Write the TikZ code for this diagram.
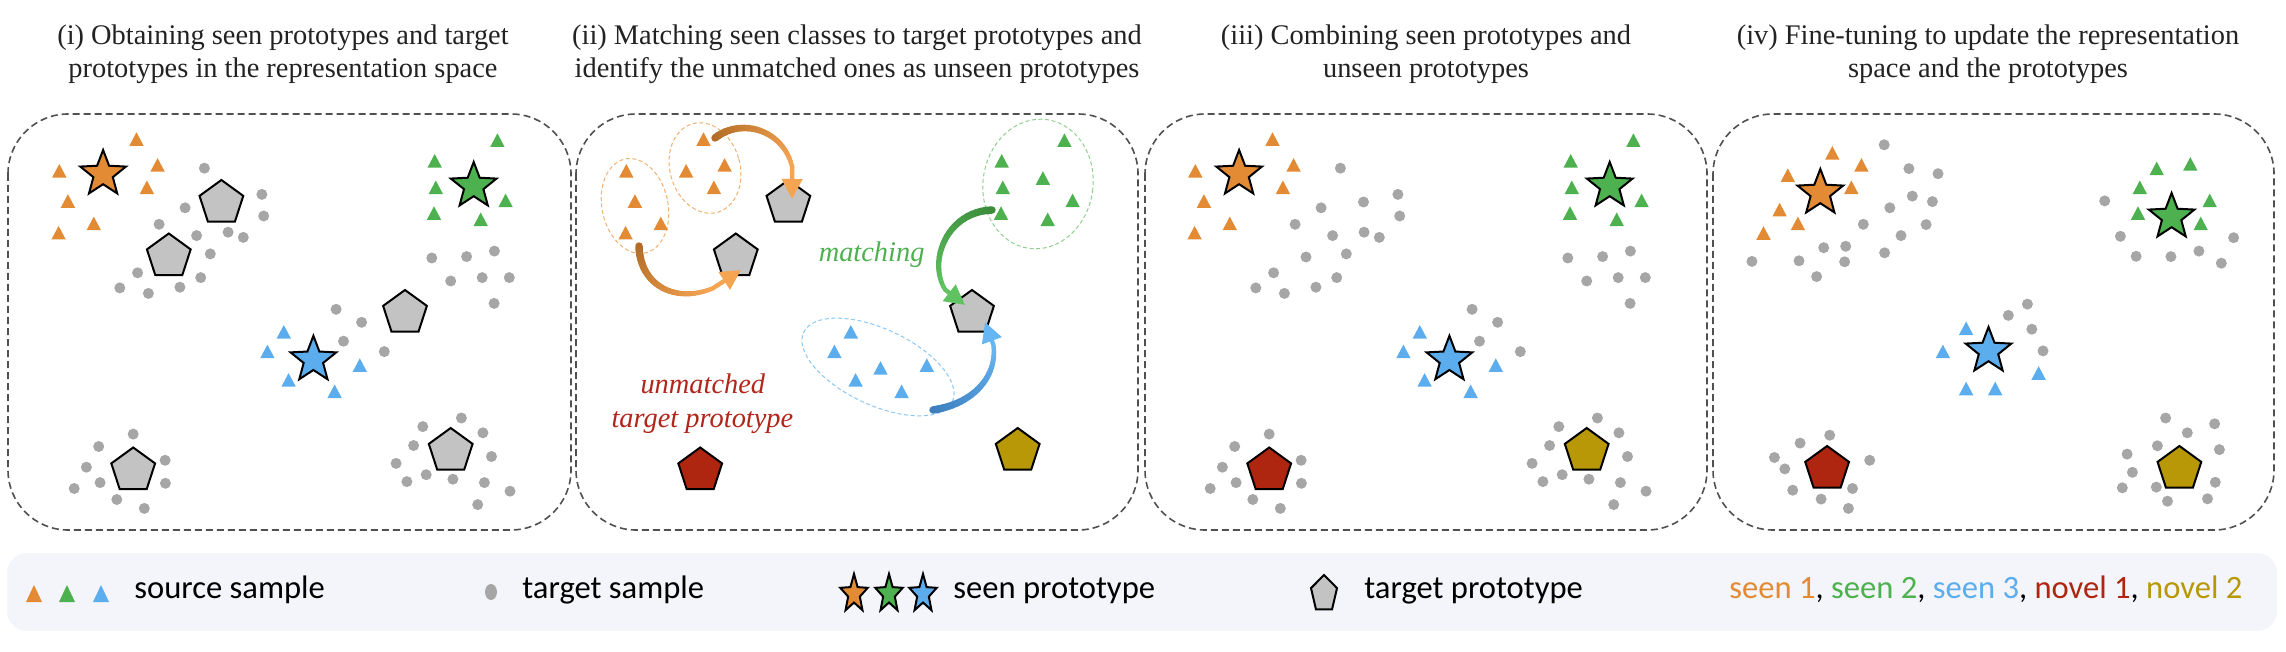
\documentclass[tikz,border=0pt]{standalone}
\usepackage{fontspec}
\setmainfont{Liberation Serif}
\newfontfamily\legfont{Carlito}
\usetikzlibrary{shapes.geometric,arrows.meta}

\definecolor{cor}{HTML}{E38A34}
\definecolor{cgr}{HTML}{4DB14F}
\definecolor{cbl}{HTML}{5CADEE}
\definecolor{cred}{HTML}{AE2610}
\definecolor{col}{HTML}{B89806}
\definecolor{cpent}{HTML}{C3C3C3}
\definecolor{cdot}{HTML}{A6A6A6}
\definecolor{cpanel}{HTML}{505050}
\definecolor{clegbg}{HTML}{F3F5FA}
\definecolor{ctitle}{HTML}{222222}
\definecolor{corD}{HTML}{B06A25}
\definecolor{corL}{HTML}{F5A452}
\definecolor{cgrD}{HTML}{3A8A3A}
\definecolor{cgrL}{HTML}{60C260}
\definecolor{cblD}{HTML}{3C7CBC}
\definecolor{cblL}{HTML}{66B6F4}
\definecolor{corE}{HTML}{F0B070}
\definecolor{cgrE}{HTML}{8FD08F}
\definecolor{cblE}{HTML}{8CC8F2}
\definecolor{cunm}{HTML}{B0261A}

\tikzset{
 panelbox/.style={draw=cpanel, line width=0.8pt, dash pattern=on 3.5pt off 2pt, rounded corners=30pt},
 pent/.style={regular polygon, regular polygon sides=5, minimum size=23pt, inner sep=0pt, draw=black, line width=1pt},
 pstar/.style={star, star points=5, star point ratio=2.35, minimum size=24pt, inner sep=0pt, draw=black, line width=1pt},
 clus/.style={ellipse, line width=0.5pt, dash pattern=on 2pt off 1.3pt, inner sep=0pt},
 ttl/.style={font=\fontsize{14.2}{16.5}\selectfont, text=ctitle, anchor=base, inner sep=0pt},
 lab/.style={font=\fontsize{14.2}{17}\selectfont\itshape, anchor=base, inner sep=0pt},
 leg/.style={font=\legfont\fontsize{16.3}{19}\selectfont, anchor=base west, inner sep=0pt},
}

\newcommand\tri[3]{\fill[#1] ({#2-7.2},{#3+6.6}) -- ({#2+7.2},{#3+6.6}) -- (#2,{#3-7}) -- cycle;}
\newcommand\dt[2]{\fill[cdot] (#1,#2) circle [radius=5.5];}

\newcommand\orangeTris{\foreach \x/\y in {136.5/139.3,59.3/171,157.6/165.1,146.9/187.5,67.9/201.2,93.8/223.6,58.6/232.9}{\tri{cor}{\x}{\y}}}
\newcommand\greenTris{\foreach \x/\y in {497.4/140.4,434.7/161,435.8/187.5,505.6/200.6,434/213.3,480.7/219.5}{\tri{cgr}{\x}{\y}}}
\newcommand\blueTris{\foreach \x/\y in {283.8/332,267.4/351.6,359.8/365.3,288.6/380.1,334.6/391.5}{\tri{cbl}{\x}{\y}}}
\newcommand\dotsTop{\foreach \x/\y in {204.4/168.2,261.9/194.4,185.1/207.8,263.7/216,159.1/224.3,228.1/232.2,243.3/237.4,196.6/235.6,210.3/253.9,137.6/272.8,200.7/277.6,119.8/287.9,148.4/293.4,179.9/287.2,431.8/258,466.6/256.6,494.4/251.1,450.7/281,482.2/277.6,509.3/277.6,494.1/303.4,336.1/309.3,361.6/322.3,343.5/341.2,384.3/351.6}{\dt{\x}{\y}}}
\newcommand\dotsBottom{\foreach \x/\y in {133.2/434.1,98.7/446.5,165.1/460.3,86.4/467.2,100.1/482.6,165.4/483.3,74.2/488.5,116.8/499.5,144.3/508.4,461.4/418,422.8/426.6,482.9/432.8,413.6/445.5,491.5/456.5,396.1/463.4,426.2/474.7,452.9/479.2,484.4/482.6,406.9/481.6,510/491.2,477.7/504.6}{\dt{\x}{\y}}}

\newcommand\gradarrow[6]{%
 \path (#1) .. controls (#2) and (#3) .. (#4)
   \foreach \k in {0,...,30}{ coordinate[pos=\k/30] (ga\k) };
 \foreach \k in {1,...,24}{%
   \pgfmathtruncatemacro\pc{round(100*\k/24)}%
   \pgfmathsetmacro\lw{3.8-1.6*\k/24}%
   \pgfmathtruncatemacro\kp{\k-1}%
   \draw[line width=\lw pt, line cap=round, color=#6!\pc!#5] (ga\kp) -- (ga\k);}
 \draw[line width=2.2pt, color=#6, -{Triangle[length=10pt,width=10pt]}] (ga24) -- (ga30);
}

\begin{document}
\begin{tikzpicture}[x=0.5pt,y=-0.5pt]
\useasboundingbox (0,0) rectangle (2286,652);

% ---------- panels
\draw[panelbox] (8,114) rectangle (571,530);
\draw[panelbox] (576,114) rectangle (1138,530);
\draw[panelbox] (1145,114) rectangle (1707,530);
\draw[panelbox] (1713,114) rectangle (2274,530);

% ---------- titles
\node[ttl] (t1a) at (283,45) {(i) Obtaining seen prototypes and target};
\node[ttl] (t1b) at (283,78) {prototypes in the representation space};
\node[ttl] (t2a) at (857,45) {(ii) Matching seen classes to target prototypes and};
\node[ttl] (t2b) at (857,78) {identify the unmatched ones as unseen prototypes};
\node[ttl] (t3a) at (1426,45) {(iii) Combining seen prototypes and};
\node[ttl] (t3b) at (1426,78) {unseen prototypes};
\node[ttl] (t4a) at (1988,45) {(iv) Fine-tuning to update the representation};
\node[ttl] (t4b) at (1988,78) {space and the prototypes};

% ---------- panel 1
\begin{scope}
\orangeTris \greenTris \blueTris \dotsTop \dotsBottom
\node[pent, fill=cpent] (p1a) at (221.4,203) {};
\node[pent, fill=cpent] (p1b) at (168.8,256.5) {};
\node[pent, fill=cpent] (p1c) at (405,313) {};
\node[pent, fill=cpent] (p1d) at (133.2,470.5) {};
\node[pent, fill=cpent] (p1e) at (450.7,451) {};
\node[pstar, fill=cor] (s1o) at (103.1,174) {};
\node[pstar, fill=cgr] (s1g) at (473.7,186) {};
\node[pstar, fill=cbl] (s1b) at (313.4,359.8) {};
\end{scope}

% ---------- panel 2
\node[clus, draw=corE, minimum width=33pt, minimum height=48pt, rotate=12] (e1) at (635,206) {};
\node[clus, draw=corE, minimum width=35pt, minimum height=46pt, rotate=16] (e2) at (705,168) {};
\node[clus, draw=cgrE, minimum width=55pt, minimum height=65pt, rotate=-8] (eg) at (1038,184) {};
\node[clus, draw=cblE, minimum width=82pt, minimum height=38pt, rotate=-25] (eb) at (878,367) {};
\begin{scope}[shift={(567,0)}]
\orangeTris \greenTris \blueTris
\node[pent, fill=cpent] (p2a) at (221.4,203) {};
\node[pent, fill=cpent] (p2b) at (168.8,256.5) {};
\node[pent, fill=cpent] (p2c) at (405,313) {};
\node[pent, fill=cred] (p2d) at (133.2,470.5) {};
\node[pent, fill=col] (p2e) at (450.7,451) {};
\end{scope}
\tri{cor}{686.1}{171}
\tri{cgr}{1042.9}{178.2}
\tri{cbl}{880.5}{368.1}

\coordinate (a1s) at (715,138); \coordinate (a1c) at (748,112); \coordinate (a1d) at (805,138); \coordinate (a1e) at (792,199);
\coordinate (a2s) at (639,246); \coordinate (a2c) at (640,295); \coordinate (a2d) at (695,312); \coordinate (a2e) at (741,270);
\coordinate (a3s) at (992,210); \coordinate (a3c) at (935,212); \coordinate (a3d) at (920,290); \coordinate (a3e) at (965,305);
\coordinate (a4s) at (933,410); \coordinate (a4c) at (985,402); \coordinate (a4d) at (1008,360); \coordinate (a4e) at (985,322);
\gradarrow{a1s}{a1c}{a1d}{a1e}{corD}{corL}
\gradarrow{a2s}{a2c}{a2d}{a2e}{corD}{corL}
\gradarrow{a3s}{a3c}{a3d}{a3e}{cgrD}{cgrL}
\gradarrow{a4s}{a4c}{a4d}{a4e}{cblD}{cblL}

\node[lab, text=cgr] (lm) at (871.6,262) {matching};
\node[lab, text=cunm] (lu1) at (702.8,393) {unmatched};
\node[lab, text=cunm] (lu2) at (702.4,427.6) {target prototype};

% ---------- panel 3
\begin{scope}[shift={(1136,0)}]
\orangeTris \greenTris \blueTris \dotsTop \dotsBottom
\dt{227.5}{202}\dt{170}{257}
\node[pent, fill=cred] (p3d) at (133.2,470.5) {};
\node[pent, fill=col] (p3e) at (450.7,451) {};
\node[pstar, fill=cor] (s3o) at (103.1,174) {};
\node[pstar, fill=cgr] (s3g) at (473.7,186) {};
\node[pstar, fill=cbl] (s3b) at (313.4,359.8) {};
\end{scope}

% ---------- panel 4
\foreach \x/\y in {1832.3/153.1,1787.8/175.4,1861.4/165.1,1851.3/187.5,1779.6/209.8,1797.9/223.6,1763.5/233.2}{\tri{cor}{\x}{\y}}
\foreach \x/\y in {2156.7/168.6,2190.3/164.1,2139.8/187.5,2209.7/200.6,2138/213.3,2200.7/223.6}{\tri{cgr}{\x}{\y}}
\foreach \x/\y in {1966.1/328.5,1942.9/351.6,2038.6/373.2,1966.1/388.7,1995.2/388.7}{\tri{cbl}{\x}{\y}}
\foreach \x/\y in {1884.2/144.8,1908.9/168.6,1938/173.7,1912.3/196.1,1932.4/201.6,1889.8/207.8,1863.3/224.3,1926.1/224.6,1901/235.6,1823.7/247.7,1845.7/246.3,1751.9/261.4,1799/260.8,1844.6/261.8,1884.6/252.8,1816.6/276.6,
2104.7/200.9,2120.4/236.3,2233.6/237.7,2136.1/256.3,2170.9/256.6,2198.9/251.1,2221.3/263.2,
2027.4/304.1,2008.3/315.4,2031.8/329.2,2043/350.9,
1829.7/435.2,1800.1/443.1,1774.4/457.5,1869.7/460.3,1784.8/468.9,1792.7/490.2,1852.5/488.5,1821.1/499.1,1848.4/508.4,
2165.6/418,2214.6/423.8,2187.3/432.8,2157.4/445.8,2219.4/449.6,2127.1/454.1,2132.4/472.3,2122.3/487.8,2156.3/487.1,2215.3/482.3,2167.5/501.2,2207.5/498.8}{\dt{\x}{\y}}
\node[pent, fill=cred] (p4d) at (1827.1,469) {};
\node[pent, fill=col] (p4e) at (2179.4,469) {};
\node[pstar, fill=cor] (s4o) at (1820.3,193) {};
\node[pstar, fill=cgr] (s4g) at (2171.6,217) {};
\node[pstar, fill=cbl] (s4b) at (1988.5,351) {};

% ---------- legend
\fill[clegbg, rounded corners=10pt] (7,553) rectangle (2277,631);
\fill[cor] (26,602) -- (42,602) -- (34,585) -- cycle;
\fill[cgr] (59,602) -- (75,602) -- (67,585) -- cycle;
\fill[cbl] (93,602) -- (109,602) -- (101,585) -- cycle;
\node[leg] (l1) at (134,598) {source sample};
\fill[cdot] (491,592) ellipse [x radius=6, y radius=8];
\node[leg] (l2) at (522,598) {target sample};
\node[pstar, fill=cor, minimum size=20pt, xscale=0.72] (ls1) at (854,594) {};
\node[pstar, fill=cgr, minimum size=20pt, xscale=0.72] (ls2) at (889,594) {};
\node[pstar, fill=cbl, minimum size=20pt, xscale=0.72] (ls3) at (923,594) {};
\node[leg] (l3) at (953,598) {seen prototype};
\node[pent, fill=cpent, minimum size=19pt, xscale=0.72] (lp) at (1324,594) {};
\node[leg] (l4) at (1364,598) {target prototype};
\node[leg] (l5) at (1729,598) {{\color{cor}seen 1}, {\color{cgr}seen 2}, {\color{cbl}seen 3}, {\color{cred}novel 1}, {\color{col}novel 2}};
\end{tikzpicture}
\end{document}
